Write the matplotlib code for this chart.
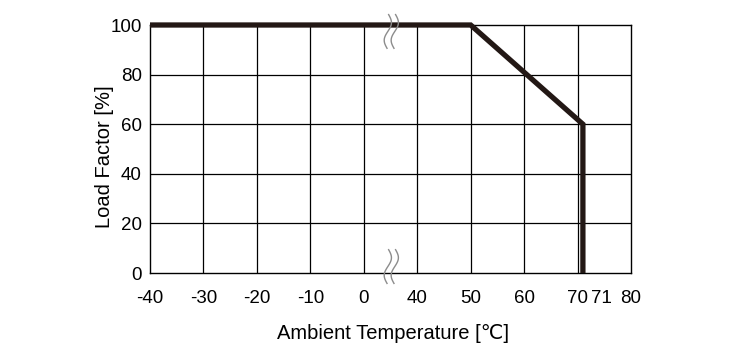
import matplotlib
matplotlib.use("Agg")
import matplotlib.pyplot as plt
import matplotlib.transforms as mtransforms
import numpy as np

plt.rcParams['font.family'] = ['Liberation Sans', 'DejaVu Sans']

# data
temps = [-40, 50, 71, 71]
load = [100, 100, 60, 0]
xtick_vals = [-40, -30, -20, -10, 0, 40, 50, 60, 70, 71, 80]
grid_vals = [-30, -20, -10, 0, 40, 50, 60, 70]
ytick_vals = [0, 20, 40, 60, 80, 100]

def to_disp(v):
    v = np.asarray(v, dtype=float)
    return np.where(v <= 0, (v + 40) / 10.0, 5 + (v - 40) / 10.0)

fig = plt.figure(figsize=(7.4, 3.6), dpi=100)
ax = fig.add_axes([150/740, 1-273/360, (631-150)/740, (273-25)/360])

ax.set_xlim(0, 9)
ax.set_ylim(0, 100)

for g in to_disp(grid_vals):
    ax.axvline(g, color='black', lw=0.9, zorder=1)
for y in ytick_vals[1:-1]:
    ax.axhline(y, color='black', lw=0.9, zorder=1)

ax.plot(to_disp(temps), load, color='#231815', lw=3.8, solid_joinstyle='miter',
        solid_capstyle='butt', zorder=3, clip_on=False)

ax.set_xticks(to_disp(xtick_vals))
ax.set_xticklabels([str(v) for v in xtick_vals])
ax.set_yticks(ytick_vals)
ax.set_yticklabels([str(v) for v in ytick_vals])
ax.tick_params(axis='both', length=0, labelsize=13.5, colors='black')
ax.tick_params(axis='x', pad=12)
ax.tick_params(axis='y', pad=6)

# shift the "71" label to avoid overlap
offset = mtransforms.ScaledTranslation(0.19, 0, fig.dpi_scale_trans)
lbl = ax.get_xticklabels()[xtick_vals.index(71)]
lbl.set_transform(lbl.get_transform() + offset)

for s in ax.spines.values():
    s.set_color('black')
    s.set_linewidth(1.0)

ax.set_xlabel('Ambient Temperature [℃]', fontsize=14.5, va='center')
ax.set_ylabel('Load Factor [%]', fontsize=14.5, va='center')
ax.xaxis.set_label_coords(0.505, -0.242)
ax.yaxis.set_label_coords(-0.0936, 0.47)

# break marks
tr = ax.get_xaxis_transform()
xc = 4.45
t = np.linspace(0, 1, 60)
for yc in (0.974, 0.026):
    ys = yc + 0.068 - 0.136 * t
    for dx in (0.0, 0.13):
        xs = xc + dx + 0.06 * np.sin(2 * np.pi * t) - 0.03 * (t - 0.5)
        ax.plot(xs, ys, transform=tr, color='#8c8c8c', lw=1.0, clip_on=False, zorder=4)

fig.savefig('out.png', dpi=100)
